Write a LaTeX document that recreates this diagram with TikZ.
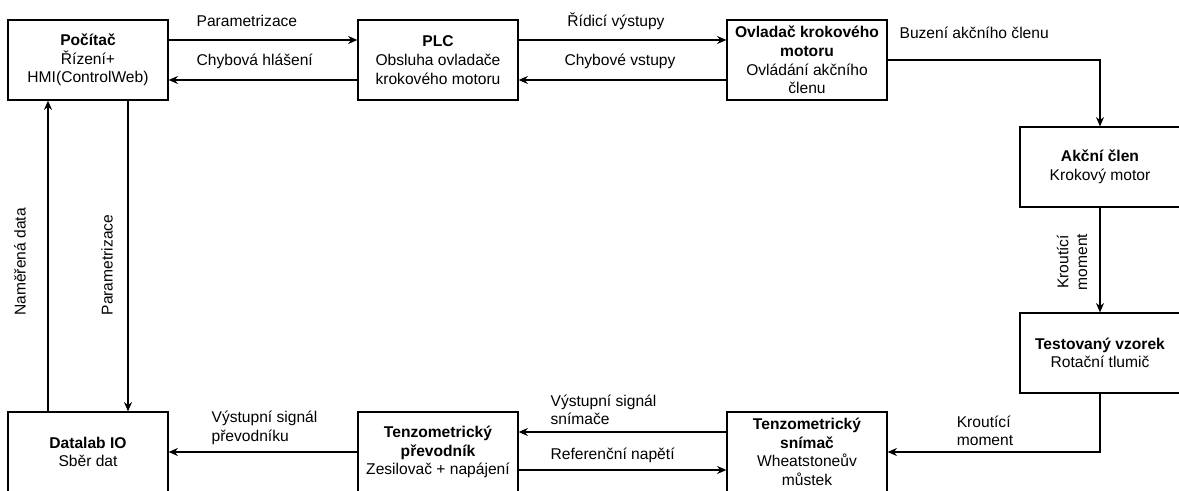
\documentclass[tikz,border=0pt]{standalone}
\usepackage{fontspec}
\setmainfont{Liberation Sans}
\usetikzlibrary{arrows.meta,calc}
\begin{document}
\begin{tikzpicture}[x=0.75pt,y=-0.75pt,>={Stealth[length=7pt,width=6pt]},line width=0.9pt,
	font=\fontsize{11.7}{14}\selectfont,
	blok/.style={draw,minimum width=120pt,minimum height=60pt,align=center,inner sep=1pt},
	popis/.style={align=left,inner sep=0pt}]
	\useasboundingbox (0,0) rectangle (1179,491);
	% bloky
	\node[blok] (pc) at (88,60) {\textbf{Počítač}\\Řízení+\\HMI(ControlWeb)};
	\node[blok] (plc) at (438,60) {\textbf{PLC}\\Obsluha ovladače\\krokového motoru};
	\node[blok] (ovl) at (807,60) {\textbf{Ovladač krokového}\\\textbf{motoru}\\Ovládání akčního\\členu};
	\node[blok] (akc) at (1100,167) {\textbf{Akční člen}\\Krokový motor};
	\node[blok] (vzorek) at (1100,353) {\textbf{Testovaný vzorek}\\Rotační tlumič};
	\node[blok] (snimac) at (807,452) {\textbf{Tenzometrický}\\\textbf{snímač}\\Wheatstoneův\\můstek};
	\node[blok] (prev) at (438,452) {\textbf{Tenzometrický}\\\textbf{převodník}\\Zesilovač + napájení};
	\node[blok] (datalab) at (88,452) {\textbf{Datalab IO}\\Sběr dat};
	% horni vetev
	\draw[->] ($(pc.east)+(0,-20)$) -- ($(plc.west)+(0,-20)$);
	\draw[->] ($(plc.west)+(0,20)$) -- ($(pc.east)+(0,20)$);
	\draw[->] ($(plc.east)+(0,-20)$) -- ($(ovl.west)+(0,-20)$);
	\draw[->] ($(ovl.west)+(0,20)$) -- ($(plc.east)+(0,20)$);
	\node[popis,anchor=west] (l1) at (196,21) {Parametrizace};
	\node[popis,anchor=west] (l2) at (196,61) {Chybová hlášení};
	\node[popis] (l3) at (616,21) {Řídicí výstupy};
	\node[popis] (l4) at (620,61) {Chybové vstupy};
	% prava vetev
	\draw[->] (ovl.east) -| (akc.north);
	\node[popis,anchor=west] (l5) at (899,33) {Buzení akčního členu};
	\draw[->] (akc) -- (vzorek);
	\node[popis,align=center,rotate=90] (l6) at (1072,262) {Kroutící\\moment};
	\draw[->] (vzorek.south) |- (snimac.east);
	\node[popis] (l7) at (985,431) {Kroutící\\moment};
	% dolni vetev
	\draw[->] ($(snimac.west)+(0,-20)$) -- ($(prev.east)+(0,-20)$);
	\draw[->] ($(prev.east)+(0,18)$) -- ($(snimac.west)+(0,18)$);
	\node[popis,anchor=west] (l8) at (550,410) {Výstupní signál\\snímače};
	\node[popis,anchor=west] (l9) at (550,455) {Referenční napětí};
	\draw[->] (prev.west) -- (datalab.east);
	\node[popis,anchor=west] (l10) at (211,428) {Výstupní signál\\převodníku};
	% leva vetev
	\draw[->] ($(datalab.north)+(-40,0)$) -- ($(pc.south)+(-40,0)$);
	\draw[->] ($(pc.south)+(40,0)$) -- ($(datalab.north)+(40,0)$);
	\node[popis,rotate=90] (l11) at (20,262) {Naměřená data};
	\node[popis,rotate=90] (l12) at (107,265) {Parametrizace};
\end{tikzpicture}
\end{document}
